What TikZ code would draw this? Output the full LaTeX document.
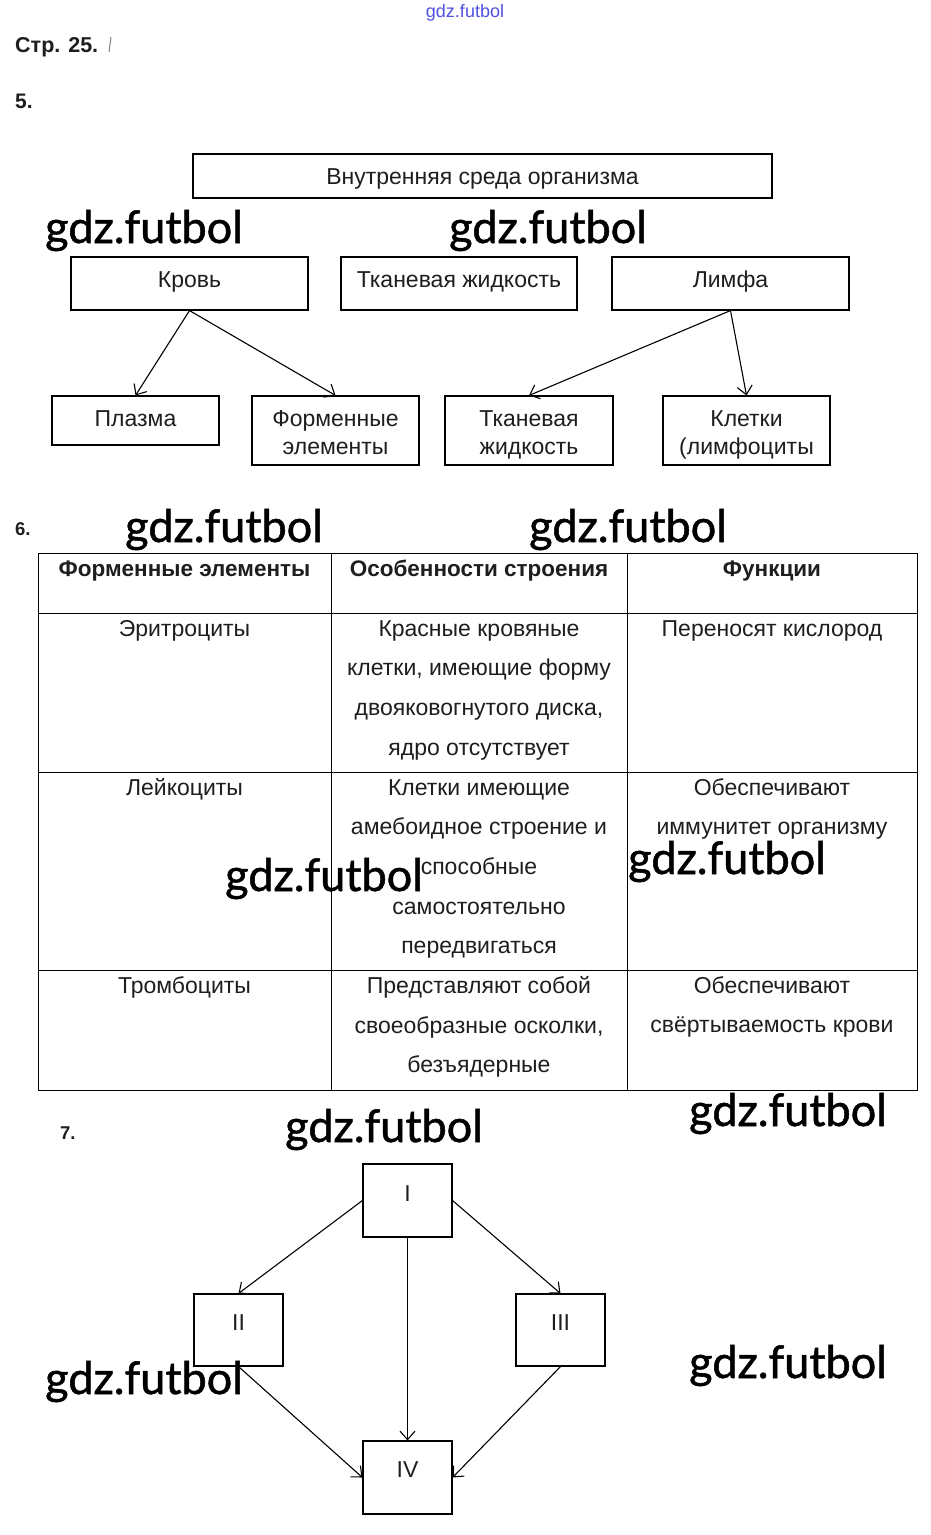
\documentclass[tikz,border=0pt]{standalone}
\usepackage{fontspec}
\setmainfont{Liberation Sans}
\newfontfamily\wmfont[FakeBold=1.2]{Lato}
\usetikzlibrary{arrows.meta}
\definecolor{ink}{RGB}{30,30,30}
\definecolor{wmblue}{RGB}{80,80,225}
\begin{document}
\begin{tikzpicture}[x=1pt,y=-1pt,
  box/.style={draw=black, line width=1.1pt, inner sep=0pt},
  txt/.style={font=\fontsize{23}{23}\selectfont, text=ink, anchor=base, inner sep=0pt},
  hdr/.style={font=\bfseries\fontsize{22.5}{22.5}\selectfont, text=ink, anchor=base, inner sep=0pt},
  num/.style={font=\bfseries\fontsize{18.5}{18.5}\selectfont, text=ink, anchor=base west, inner sep=0pt},
  wm/.style={font=\wmfont\fontsize{45}{45}\selectfont, text=black, anchor=base west, inner sep=0pt},
  arr/.style={draw=black, line width=1.1pt, -{Straight Barb[length=8.5pt,width=15pt,line width=1.1pt]}},
  grid/.style={draw=black, line width=1pt}]
\fill[white] (0,0) rectangle (930,1535);
\useasboundingbox (0,0) rectangle (930,1535);

% header
\node[font=\fontsize{18}{18}\selectfont, text=wmblue, anchor=base, inner sep=0pt] (site) at (465,17) {gdz.futbol};
\node[num, font=\bfseries\fontsize{21.5}{21.5}\selectfont] (page) at (15,52) {Стр. 25.};
\draw[gray, line width=1pt] (109,52) -- (111,37);
\node[num, font=\bfseries\fontsize{21}{21}\selectfont] (n5) at (15,108) {5.};

% ---- task 5 ----
\node[box, minimum width=579pt, minimum height=44pt] (top) at (482.5,176) {};
\node[txt] (topt) at (482.5,184) {Внутренняя среда организма};
\node[box, minimum width=237pt, minimum height=53pt] (krov) at (189.5,283.5) {};
\node[txt] (krovt) at (189.5,287) {Кровь};
\node[box, minimum width=236pt, minimum height=53pt] (tkan) at (459,283.5) {};
\node[txt] (tkant) at (459,287) {Тканевая жидкость};
\node[box, minimum width=237pt, minimum height=53pt] (limfa) at (730.5,283.5) {};
\node[txt] (limfat) at (730.5,287) {Лимфа};

\node[box, minimum width=167pt, minimum height=49pt] (plazma) at (135.5,420.5) {};
\node[txt] (plazmat) at (135.5,426) {Плазма};
\node[box, minimum width=167pt, minimum height=69pt] (form) at (335.5,430.5) {};
\node[txt] (formt1) at (335.5,426) {Форменные};
\node[txt] (formt2) at (335.5,454) {элементы};
\node[box, minimum width=168pt, minimum height=69pt] (tkan2) at (529,430.5) {};
\node[txt] (tkan2t1) at (529,426) {Тканевая};
\node[txt] (tkan2t2) at (529,454) {жидкость};
\node[box, minimum width=167pt, minimum height=69pt] (kletki) at (746.5,430.5) {};
\node[txt] (kletkit1) at (746.5,426) {Клетки};
\node[txt] (kletkit2) at (746.5,454) {(лимфоциты};

\draw[arr] (krov.south) -- (plazma.north);
\draw[arr] (krov.south) -- (form.north);
\draw[arr] (limfa.south) -- (tkan2.north);
\draw[arr] (limfa.south) -- (kletki.north);

% ---- task 6 ----
\node[num] (n6) at (15,535) {6.};
\draw[grid] (38,553) rectangle (917,1090);
\draw[grid] (331,553) -- (331,1090);
\draw[grid] (627,553) -- (627,1090);
\draw[grid] (38,613) -- (917,613);
\draw[grid] (38,772) -- (917,772);
\draw[grid] (38,970) -- (917,970);

\node[hdr] (h1) at (184.5,576) {Форменные элементы};
\node[hdr] (h2) at (479,576) {Особенности строения};
\node[hdr] (h3) at (772,576) {Функции};

\node[txt] (r1a) at (184.5,636) {Эритроциты};
\node[txt] (r1b1) at (479,636) {Красные кровяные};
\node[txt] (r1b2) at (479,675) {клетки, имеющие форму};
\node[txt] (r1b3) at (479,715) {двояковогнутого диска,};
\node[txt] (r1b4) at (479,755) {ядро отсутствует};
\node[txt] (r1c) at (772,636) {Переносят кислород};

\node[txt] (r2a) at (184.5,795) {Лейкоциты};
\node[txt] (r2b1) at (479,795) {Клетки имеющие};
\node[txt] (r2b2) at (479,834) {амебоидное строение и};
\node[txt] (r2b3) at (479,874) {способные};
\node[txt] (r2b4) at (479,914) {самостоятельно};
\node[txt] (r2b5) at (479,953) {передвигаться};
\node[txt] (r2c1) at (772,795) {Обеспечивают};
\node[txt] (r2c2) at (772,834) {иммунитет организму};

\node[txt] (r3a) at (184.5,993) {Тромбоциты};
\node[txt] (r3b1) at (479,993) {Представляют собой};
\node[txt] (r3b2) at (479,1033) {своеобразные осколки,};
\node[txt] (r3b3) at (479,1072) {безъядерные};
\node[txt] (r3c1) at (772,993) {Обеспечивают};
\node[txt] (r3c2) at (772,1032) {свёртываемость крови};

% ---- task 7 ----
\node[num] (n7) at (60,1139) {7.};
\node[box, minimum width=89pt, minimum height=73pt] (b1) at (407.5,1200.5) {};
\node[txt] (b1t) at (407.5,1201) {I};
\node[box, minimum width=89pt, minimum height=72pt] (b2) at (238.5,1330) {};
\node[txt] (b2t) at (238.5,1330) {II};
\node[box, minimum width=89pt, minimum height=72pt] (b3) at (560.5,1330) {};
\node[txt] (b3t) at (560.5,1330) {III};
\node[box, minimum width=89pt, minimum height=73pt] (b4) at (407.5,1477.5) {};
\node[txt] (b4t) at (407.5,1477) {IV};

\draw[arr] (b1.west) -- (b2.north);
\draw[arr] (b1.east) -- (b3.north);
\draw[arr] (b1.south) -- (b4.north);
\draw[arr] (b2.south) -- (b4.west);
\draw[arr] (b3.south) -- (b4.east);

% ---- watermarks ----
\node[wm] (w1) at (45,243) {gdz.futbol};
\node[wm] (w2) at (449,243) {gdz.futbol};
\node[wm] (w3) at (125,542) {gdz.futbol};
\node[wm] (w4) at (529,542) {gdz.futbol};
\node[wm] (w5) at (225,891) {gdz.futbol};
\node[wm] (w6) at (628,874) {gdz.futbol};
\node[wm] (w7) at (285,1142) {gdz.futbol};
\node[wm] (w8) at (689,1126) {gdz.futbol};
\node[wm] (w9) at (45,1394) {gdz.futbol};
\node[wm] (w10) at (689,1378) {gdz.futbol};
\end{tikzpicture}
\end{document}
